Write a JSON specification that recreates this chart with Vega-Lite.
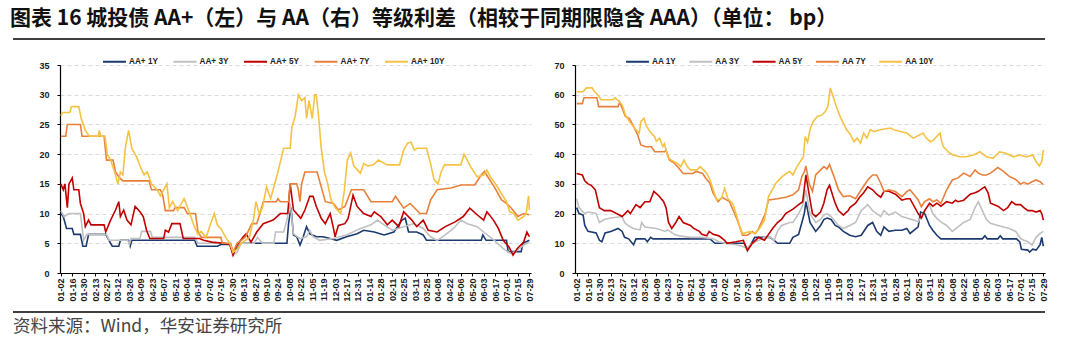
{
"$schema": "https://vega.github.io/schema/vega-lite/v6.json",
"background": "white",
"padding": {"left": 10, "top": 8, "right": 5, "bottom": 5},
"title": {"text": "图表 16 城投债 AA+（左）与 AA（右）等级利差（相较于同期限隐含 AAA）（单位： bp）", "anchor": "start", "font": "Noto Sans CJK SC", "fontSize": 21, "fontWeight": "bold", "color": "#111111", "offset": 7},
"config": {
  "view": {"stroke": null},
  "font": "Liberation Sans",
  "axis": {"labelFont": "Liberation Sans", "labelFontWeight": "bold", "labelColor": "#1a1a1a", "domainColor": "#000000", "domainWidth": 1.2, "tickColor": "#000000", "tickSize": 3, "titleFont": "Liberation Sans"},
  "axisY": {"labelFontSize": 9, "labelPadding": 8, "grid": true, "gridColor": "#d0d0d0", "gridDash": [4, 3], "gridWidth": 0.8},
  "axisX": {"labelFontSize": 9, "labelAngle": -90, "labelPadding": 2, "grid": false},
  "legend": {"orient": "none", "direction": "horizontal", "columns": 5, "symbolType": "stroke", "symbolSize": 529, "symbolStrokeWidth": 2, "labelFont": "Liberation Sans", "labelFontSize": 8.2, "labelFontWeight": "bold", "labelColor": "#222222", "labelOffset": 2, "gridAlign": "all", "padding": 0, "title": null}
},
"datasets": {
"L": [
{"s":"AA+ 1Y","d":"2024-01-02","v":10},{"s":"AA+ 1Y","d":"2024-01-05","v":9.5},{"s":"AA+ 1Y","d":"2024-01-09","v":7.5},{"s":"AA+ 1Y","d":"2024-01-16","v":7.5},{"s":"AA+ 1Y","d":"2024-01-18","v":6.5},{"s":"AA+ 1Y","d":"2024-01-26","v":6.5},{"s":"AA+ 1Y","d":"2024-01-29","v":4.5},{"s":"AA+ 1Y","d":"2024-02-02","v":4.5},{"s":"AA+ 1Y","d":"2024-02-05","v":6.5},{"s":"AA+ 1Y","d":"2024-02-26","v":6.5},{"s":"AA+ 1Y","d":"2024-03-01","v":5.5},{"s":"AA+ 1Y","d":"2024-03-05","v":4.5},{"s":"AA+ 1Y","d":"2024-03-13","v":4.5},{"s":"AA+ 1Y","d":"2024-03-15","v":5.5},{"s":"AA+ 1Y","d":"2024-03-25","v":5.5},{"s":"AA+ 1Y","d":"2024-03-27","v":4.5},{"s":"AA+ 1Y","d":"2024-03-29","v":5.5},{"s":"AA+ 1Y","d":"2024-06-14","v":5.5},{"s":"AA+ 1Y","d":"2024-06-17","v":4.5},{"s":"AA+ 1Y","d":"2024-07-12","v":4.5},{"s":"AA+ 1Y","d":"2024-07-16","v":4.8},{"s":"AA+ 1Y","d":"2024-07-27","v":4.8},{"s":"AA+ 1Y","d":"2024-07-31","v":3.5},{"s":"AA+ 1Y","d":"2024-08-04","v":4},{"s":"AA+ 1Y","d":"2024-08-10","v":5},{"s":"AA+ 1Y","d":"2024-10-05","v":5},{"s":"AA+ 1Y","d":"2024-10-07","v":8.3},{"s":"AA+ 1Y","d":"2024-10-10","v":11},{"s":"AA+ 1Y","d":"2024-10-13","v":6.4},{"s":"AA+ 1Y","d":"2024-10-17","v":6.1},{"s":"AA+ 1Y","d":"2024-10-21","v":4.7},{"s":"AA+ 1Y","d":"2024-10-25","v":6.1},{"s":"AA+ 1Y","d":"2024-10-29","v":7.8},{"s":"AA+ 1Y","d":"2024-11-02","v":6.6},{"s":"AA+ 1Y","d":"2024-11-10","v":6.1},{"s":"AA+ 1Y","d":"2024-11-18","v":6.1},{"s":"AA+ 1Y","d":"2024-11-27","v":5.8},{"s":"AA+ 1Y","d":"2024-12-05","v":5.5},{"s":"AA+ 1Y","d":"2024-12-17","v":6.1},{"s":"AA+ 1Y","d":"2024-12-30","v":6.6},{"s":"AA+ 1Y","d":"2025-01-07","v":7.2},{"s":"AA+ 1Y","d":"2025-01-20","v":6.9},{"s":"AA+ 1Y","d":"2025-02-01","v":6.4},{"s":"AA+ 1Y","d":"2025-02-13","v":6.9},{"s":"AA+ 1Y","d":"2025-02-23","v":8.9},{"s":"AA+ 1Y","d":"2025-02-27","v":9.2},{"s":"AA+ 1Y","d":"2025-03-03","v":6.9},{"s":"AA+ 1Y","d":"2025-03-13","v":6.9},{"s":"AA+ 1Y","d":"2025-03-21","v":6.4},{"s":"AA+ 1Y","d":"2025-03-25","v":5.5},{"s":"AA+ 1Y","d":"2025-05-31","v":5.5},{"s":"AA+ 1Y","d":"2025-06-02","v":6.4},{"s":"AA+ 1Y","d":"2025-06-06","v":5.5},{"s":"AA+ 1Y","d":"2025-07-01","v":5.5},{"s":"AA+ 1Y","d":"2025-07-03","v":3.6},{"s":"AA+ 1Y","d":"2025-07-19","v":3.6},{"s":"AA+ 1Y","d":"2025-07-21","v":5},{"s":"AA+ 1Y","d":"2025-07-29","v":5.5},
{"s":"AA+ 3Y","d":"2024-01-02","v":10.5},{"s":"AA+ 3Y","d":"2024-01-06","v":9.5},{"s":"AA+ 3Y","d":"2024-01-12","v":10},{"s":"AA+ 3Y","d":"2024-01-26","v":10},{"s":"AA+ 3Y","d":"2024-01-30","v":5.5},{"s":"AA+ 3Y","d":"2024-02-03","v":6.5},{"s":"AA+ 3Y","d":"2024-02-27","v":6.5},{"s":"AA+ 3Y","d":"2024-03-01","v":5.5},{"s":"AA+ 3Y","d":"2024-03-24","v":5.5},{"s":"AA+ 3Y","d":"2024-03-26","v":4.8},{"s":"AA+ 3Y","d":"2024-03-28","v":5.8},{"s":"AA+ 3Y","d":"2024-04-08","v":5.8},{"s":"AA+ 3Y","d":"2024-04-10","v":7},{"s":"AA+ 3Y","d":"2024-04-21","v":7},{"s":"AA+ 3Y","d":"2024-04-23","v":6},{"s":"AA+ 3Y","d":"2024-06-14","v":6},{"s":"AA+ 3Y","d":"2024-06-18","v":5},{"s":"AA+ 3Y","d":"2024-07-27","v":5},{"s":"AA+ 3Y","d":"2024-07-31","v":3},{"s":"AA+ 3Y","d":"2024-08-05","v":3.5},{"s":"AA+ 3Y","d":"2024-08-10","v":5},{"s":"AA+ 3Y","d":"2024-08-26","v":5},{"s":"AA+ 3Y","d":"2024-08-30","v":6},{"s":"AA+ 3Y","d":"2024-09-05","v":5},{"s":"AA+ 3Y","d":"2024-09-19","v":5},{"s":"AA+ 3Y","d":"2024-09-21","v":6.9},{"s":"AA+ 3Y","d":"2024-10-01","v":6.9},{"s":"AA+ 3Y","d":"2024-10-05","v":8.9},{"s":"AA+ 3Y","d":"2024-10-07","v":10.6},{"s":"AA+ 3Y","d":"2024-10-09","v":11.7},{"s":"AA+ 3Y","d":"2024-10-13","v":6.6},{"s":"AA+ 3Y","d":"2024-10-21","v":5.8},{"s":"AA+ 3Y","d":"2024-10-29","v":6.1},{"s":"AA+ 3Y","d":"2024-11-02","v":7.2},{"s":"AA+ 3Y","d":"2024-11-06","v":6.1},{"s":"AA+ 3Y","d":"2024-11-14","v":5.5},{"s":"AA+ 3Y","d":"2024-12-01","v":5.8},{"s":"AA+ 3Y","d":"2024-12-17","v":6.4},{"s":"AA+ 3Y","d":"2025-01-03","v":7.5},{"s":"AA+ 3Y","d":"2025-01-16","v":8.1},{"s":"AA+ 3Y","d":"2025-01-24","v":8.9},{"s":"AA+ 3Y","d":"2025-02-01","v":8.1},{"s":"AA+ 3Y","d":"2025-02-11","v":7.2},{"s":"AA+ 3Y","d":"2025-02-25","v":7.8},{"s":"AA+ 3Y","d":"2025-03-09","v":8.3},{"s":"AA+ 3Y","d":"2025-03-21","v":7.5},{"s":"AA+ 3Y","d":"2025-03-30","v":6.1},{"s":"AA+ 3Y","d":"2025-04-07","v":5.5},{"s":"AA+ 3Y","d":"2025-04-17","v":6.4},{"s":"AA+ 3Y","d":"2025-04-27","v":7.5},{"s":"AA+ 3Y","d":"2025-05-06","v":8.9},{"s":"AA+ 3Y","d":"2025-05-14","v":8.3},{"s":"AA+ 3Y","d":"2025-05-26","v":7.8},{"s":"AA+ 3Y","d":"2025-06-03","v":6.9},{"s":"AA+ 3Y","d":"2025-06-16","v":5.5},{"s":"AA+ 3Y","d":"2025-06-27","v":4.1},{"s":"AA+ 3Y","d":"2025-07-06","v":3.3},{"s":"AA+ 3Y","d":"2025-07-14","v":3.8},{"s":"AA+ 3Y","d":"2025-07-22","v":4.7},{"s":"AA+ 3Y","d":"2025-07-29","v":5.2},
{"s":"AA+ 5Y","d":"2024-01-02","v":15},{"s":"AA+ 5Y","d":"2024-01-05","v":14},{"s":"AA+ 5Y","d":"2024-01-07","v":15},{"s":"AA+ 5Y","d":"2024-01-10","v":11},{"s":"AA+ 5Y","d":"2024-01-12","v":15},{"s":"AA+ 5Y","d":"2024-01-16","v":16},{"s":"AA+ 5Y","d":"2024-01-18","v":14},{"s":"AA+ 5Y","d":"2024-01-24","v":14},{"s":"AA+ 5Y","d":"2024-01-26","v":11.7},{"s":"AA+ 5Y","d":"2024-01-30","v":10},{"s":"AA+ 5Y","d":"2024-02-01","v":7.8},{"s":"AA+ 5Y","d":"2024-02-05","v":8.9},{"s":"AA+ 5Y","d":"2024-02-08","v":8.1},{"s":"AA+ 5Y","d":"2024-02-24","v":8.1},{"s":"AA+ 5Y","d":"2024-02-26","v":6.9},{"s":"AA+ 5Y","d":"2024-03-03","v":8.9},{"s":"AA+ 5Y","d":"2024-03-09","v":10.6},{"s":"AA+ 5Y","d":"2024-03-13","v":12},{"s":"AA+ 5Y","d":"2024-03-15","v":9.5},{"s":"AA+ 5Y","d":"2024-03-19","v":10.6},{"s":"AA+ 5Y","d":"2024-03-23","v":8.9},{"s":"AA+ 5Y","d":"2024-03-28","v":8.1},{"s":"AA+ 5Y","d":"2024-04-02","v":11.2},{"s":"AA+ 5Y","d":"2024-04-08","v":10.3},{"s":"AA+ 5Y","d":"2024-04-12","v":9.5},{"s":"AA+ 5Y","d":"2024-04-16","v":7.2},{"s":"AA+ 5Y","d":"2024-04-20","v":5.8},{"s":"AA+ 5Y","d":"2024-05-07","v":5.8},{"s":"AA+ 5Y","d":"2024-05-09","v":7.2},{"s":"AA+ 5Y","d":"2024-05-13","v":6.9},{"s":"AA+ 5Y","d":"2024-05-17","v":8.3},{"s":"AA+ 5Y","d":"2024-05-27","v":8.3},{"s":"AA+ 5Y","d":"2024-05-31","v":5.8},{"s":"AA+ 5Y","d":"2024-06-20","v":5.8},{"s":"AA+ 5Y","d":"2024-06-25","v":5.5},{"s":"AA+ 5Y","d":"2024-07-05","v":5.2},{"s":"AA+ 5Y","d":"2024-07-20","v":5},{"s":"AA+ 5Y","d":"2024-07-27","v":4.8},{"s":"AA+ 5Y","d":"2024-07-31","v":3},{"s":"AA+ 5Y","d":"2024-08-04","v":4.5},{"s":"AA+ 5Y","d":"2024-08-12","v":6},{"s":"AA+ 5Y","d":"2024-08-16","v":6.6},{"s":"AA+ 5Y","d":"2024-08-22","v":5.2},{"s":"AA+ 5Y","d":"2024-08-29","v":6.9},{"s":"AA+ 5Y","d":"2024-09-06","v":8.3},{"s":"AA+ 5Y","d":"2024-09-18","v":8.9},{"s":"AA+ 5Y","d":"2024-09-27","v":10},{"s":"AA+ 5Y","d":"2024-10-06","v":10},{"s":"AA+ 5Y","d":"2024-10-09","v":15},{"s":"AA+ 5Y","d":"2024-10-13","v":10.6},{"s":"AA+ 5Y","d":"2024-10-22","v":9.2},{"s":"AA+ 5Y","d":"2024-10-27","v":10.6},{"s":"AA+ 5Y","d":"2024-11-02","v":12.9},{"s":"AA+ 5Y","d":"2024-11-06","v":12.9},{"s":"AA+ 5Y","d":"2024-11-10","v":11.2},{"s":"AA+ 5Y","d":"2024-11-16","v":9.2},{"s":"AA+ 5Y","d":"2024-11-21","v":8.3},{"s":"AA+ 5Y","d":"2024-11-27","v":10},{"s":"AA+ 5Y","d":"2024-12-01","v":7.5},{"s":"AA+ 5Y","d":"2024-12-03","v":6.1},{"s":"AA+ 5Y","d":"2024-12-07","v":8},{"s":"AA+ 5Y","d":"2024-12-15","v":8.3},{"s":"AA+ 5Y","d":"2024-12-19","v":9.2},{"s":"AA+ 5Y","d":"2024-12-25","v":13.1},{"s":"AA+ 5Y","d":"2024-12-30","v":11.2},{"s":"AA+ 5Y","d":"2025-01-07","v":10},{"s":"AA+ 5Y","d":"2025-01-16","v":9.5},{"s":"AA+ 5Y","d":"2025-01-20","v":10.3},{"s":"AA+ 5Y","d":"2025-01-28","v":9.5},{"s":"AA+ 5Y","d":"2025-02-05","v":8.1},{"s":"AA+ 5Y","d":"2025-02-11","v":8.9},{"s":"AA+ 5Y","d":"2025-02-19","v":7.8},{"s":"AA+ 5Y","d":"2025-02-25","v":10.3},{"s":"AA+ 5Y","d":"2025-03-07","v":8.9},{"s":"AA+ 5Y","d":"2025-03-13","v":7.8},{"s":"AA+ 5Y","d":"2025-03-21","v":8.9},{"s":"AA+ 5Y","d":"2025-03-27","v":7.2},{"s":"AA+ 5Y","d":"2025-04-07","v":6.9},{"s":"AA+ 5Y","d":"2025-04-17","v":7.8},{"s":"AA+ 5Y","d":"2025-04-29","v":8.6},{"s":"AA+ 5Y","d":"2025-05-09","v":9.5},{"s":"AA+ 5Y","d":"2025-05-17","v":10.9},{"s":"AA+ 5Y","d":"2025-05-26","v":9.8},{"s":"AA+ 5Y","d":"2025-06-03","v":8.9},{"s":"AA+ 5Y","d":"2025-06-07","v":10.3},{"s":"AA+ 5Y","d":"2025-06-15","v":8.9},{"s":"AA+ 5Y","d":"2025-06-21","v":7.5},{"s":"AA+ 5Y","d":"2025-06-27","v":5.5},{"s":"AA+ 5Y","d":"2025-07-04","v":4.4},{"s":"AA+ 5Y","d":"2025-07-09","v":3},{"s":"AA+ 5Y","d":"2025-07-14","v":4.1},{"s":"AA+ 5Y","d":"2025-07-22","v":5.2},{"s":"AA+ 5Y","d":"2025-07-26","v":6.9},{"s":"AA+ 5Y","d":"2025-07-29","v":6.1},
{"s":"AA+ 7Y","d":"2024-01-02","v":23},{"s":"AA+ 7Y","d":"2024-01-08","v":23},{"s":"AA+ 7Y","d":"2024-01-10","v":25},{"s":"AA+ 7Y","d":"2024-01-26","v":25},{"s":"AA+ 7Y","d":"2024-01-28","v":23},{"s":"AA+ 7Y","d":"2024-02-24","v":23},{"s":"AA+ 7Y","d":"2024-02-27","v":19},{"s":"AA+ 7Y","d":"2024-03-06","v":19},{"s":"AA+ 7Y","d":"2024-03-09","v":17},{"s":"AA+ 7Y","d":"2024-03-14","v":16},{"s":"AA+ 7Y","d":"2024-03-18","v":15.5},{"s":"AA+ 7Y","d":"2024-04-19","v":15.5},{"s":"AA+ 7Y","d":"2024-04-22","v":14},{"s":"AA+ 7Y","d":"2024-05-03","v":14},{"s":"AA+ 7Y","d":"2024-05-06","v":13},{"s":"AA+ 7Y","d":"2024-05-09","v":10.5},{"s":"AA+ 7Y","d":"2024-05-19","v":10.5},{"s":"AA+ 7Y","d":"2024-05-21","v":11},{"s":"AA+ 7Y","d":"2024-06-01","v":11},{"s":"AA+ 7Y","d":"2024-06-05","v":10},{"s":"AA+ 7Y","d":"2024-06-15","v":10},{"s":"AA+ 7Y","d":"2024-06-18","v":7},{"s":"AA+ 7Y","d":"2024-06-22","v":6},{"s":"AA+ 7Y","d":"2024-07-16","v":6},{"s":"AA+ 7Y","d":"2024-07-18","v":5},{"s":"AA+ 7Y","d":"2024-07-28","v":5},{"s":"AA+ 7Y","d":"2024-07-31","v":3.5},{"s":"AA+ 7Y","d":"2024-08-05","v":5},{"s":"AA+ 7Y","d":"2024-08-15","v":6},{"s":"AA+ 7Y","d":"2024-08-23","v":8.3},{"s":"AA+ 7Y","d":"2024-08-29","v":8.3},{"s":"AA+ 7Y","d":"2024-09-02","v":10},{"s":"AA+ 7Y","d":"2024-09-06","v":12},{"s":"AA+ 7Y","d":"2024-09-22","v":12},{"s":"AA+ 7Y","d":"2024-09-24","v":12.5},{"s":"AA+ 7Y","d":"2024-09-27","v":12},{"s":"AA+ 7Y","d":"2024-10-07","v":12},{"s":"AA+ 7Y","d":"2024-10-09","v":15},{"s":"AA+ 7Y","d":"2024-10-17","v":15},{"s":"AA+ 7Y","d":"2024-10-19","v":14},{"s":"AA+ 7Y","d":"2024-10-21","v":12},{"s":"AA+ 7Y","d":"2024-10-23","v":15},{"s":"AA+ 7Y","d":"2024-10-27","v":17},{"s":"AA+ 7Y","d":"2024-11-11","v":17},{"s":"AA+ 7Y","d":"2024-11-15","v":15},{"s":"AA+ 7Y","d":"2024-11-21","v":12},{"s":"AA+ 7Y","d":"2024-12-01","v":11.7},{"s":"AA+ 7Y","d":"2024-12-07","v":10.6},{"s":"AA+ 7Y","d":"2024-12-15","v":11.2},{"s":"AA+ 7Y","d":"2024-12-23","v":14},{"s":"AA+ 7Y","d":"2025-01-07","v":14},{"s":"AA+ 7Y","d":"2025-01-16","v":12},{"s":"AA+ 7Y","d":"2025-02-11","v":12},{"s":"AA+ 7Y","d":"2025-02-15","v":12.9},{"s":"AA+ 7Y","d":"2025-02-25","v":10.9},{"s":"AA+ 7Y","d":"2025-03-05","v":11.7},{"s":"AA+ 7Y","d":"2025-03-17","v":10},{"s":"AA+ 7Y","d":"2025-03-25","v":10},{"s":"AA+ 7Y","d":"2025-03-30","v":12.3},{"s":"AA+ 7Y","d":"2025-04-07","v":14},{"s":"AA+ 7Y","d":"2025-04-24","v":14.3},{"s":"AA+ 7Y","d":"2025-05-06","v":14.8},{"s":"AA+ 7Y","d":"2025-05-23","v":14.8},{"s":"AA+ 7Y","d":"2025-05-31","v":16.5},{"s":"AA+ 7Y","d":"2025-06-04","v":17.1},{"s":"AA+ 7Y","d":"2025-06-08","v":16.2},{"s":"AA+ 7Y","d":"2025-06-16","v":14.5},{"s":"AA+ 7Y","d":"2025-06-25","v":12.3},{"s":"AA+ 7Y","d":"2025-07-01","v":11.7},{"s":"AA+ 7Y","d":"2025-07-07","v":10.9},{"s":"AA+ 7Y","d":"2025-07-15","v":9.5},{"s":"AA+ 7Y","d":"2025-07-22","v":10},{"s":"AA+ 7Y","d":"2025-07-29","v":9.8},
{"s":"AA+ 10Y","d":"2024-01-02","v":26.5},{"s":"AA+ 10Y","d":"2024-01-04","v":27},{"s":"AA+ 10Y","d":"2024-01-13","v":27},{"s":"AA+ 10Y","d":"2024-01-15","v":28},{"s":"AA+ 10Y","d":"2024-01-24","v":28},{"s":"AA+ 10Y","d":"2024-01-27","v":26},{"s":"AA+ 10Y","d":"2024-02-01","v":24},{"s":"AA+ 10Y","d":"2024-02-06","v":23},{"s":"AA+ 10Y","d":"2024-02-17","v":23},{"s":"AA+ 10Y","d":"2024-02-18","v":24},{"s":"AA+ 10Y","d":"2024-02-20","v":23},{"s":"AA+ 10Y","d":"2024-02-25","v":23},{"s":"AA+ 10Y","d":"2024-02-28","v":20},{"s":"AA+ 10Y","d":"2024-03-03","v":19},{"s":"AA+ 10Y","d":"2024-03-08","v":17},{"s":"AA+ 10Y","d":"2024-03-12","v":15},{"s":"AA+ 10Y","d":"2024-03-15","v":17},{"s":"AA+ 10Y","d":"2024-03-18","v":16.5},{"s":"AA+ 10Y","d":"2024-03-21","v":21},{"s":"AA+ 10Y","d":"2024-03-25","v":24},{"s":"AA+ 10Y","d":"2024-03-29","v":21},{"s":"AA+ 10Y","d":"2024-04-04","v":19.5},{"s":"AA+ 10Y","d":"2024-04-08","v":18},{"s":"AA+ 10Y","d":"2024-04-13","v":16.5},{"s":"AA+ 10Y","d":"2024-04-17","v":17},{"s":"AA+ 10Y","d":"2024-04-22","v":15},{"s":"AA+ 10Y","d":"2024-04-29","v":14},{"s":"AA+ 10Y","d":"2024-05-03","v":13},{"s":"AA+ 10Y","d":"2024-05-11","v":15},{"s":"AA+ 10Y","d":"2024-05-14","v":11},{"s":"AA+ 10Y","d":"2024-05-18","v":12},{"s":"AA+ 10Y","d":"2024-05-24","v":10.5},{"s":"AA+ 10Y","d":"2024-06-01","v":12.5},{"s":"AA+ 10Y","d":"2024-06-08","v":10},{"s":"AA+ 10Y","d":"2024-06-13","v":8},{"s":"AA+ 10Y","d":"2024-06-18","v":6.5},{"s":"AA+ 10Y","d":"2024-06-22","v":7},{"s":"AA+ 10Y","d":"2024-06-28","v":6},{"s":"AA+ 10Y","d":"2024-07-04","v":8.5},{"s":"AA+ 10Y","d":"2024-07-08","v":10},{"s":"AA+ 10Y","d":"2024-07-12","v":8},{"s":"AA+ 10Y","d":"2024-07-16","v":7.5},{"s":"AA+ 10Y","d":"2024-07-22","v":6},{"s":"AA+ 10Y","d":"2024-07-27","v":5},{"s":"AA+ 10Y","d":"2024-07-31","v":3.5},{"s":"AA+ 10Y","d":"2024-08-05","v":4},{"s":"AA+ 10Y","d":"2024-08-10","v":5},{"s":"AA+ 10Y","d":"2024-08-20","v":6},{"s":"AA+ 10Y","d":"2024-08-25","v":9},{"s":"AA+ 10Y","d":"2024-08-28","v":12},{"s":"AA+ 10Y","d":"2024-09-01","v":10},{"s":"AA+ 10Y","d":"2024-09-05","v":11},{"s":"AA+ 10Y","d":"2024-09-10","v":14.5},{"s":"AA+ 10Y","d":"2024-09-15","v":12.5},{"s":"AA+ 10Y","d":"2024-09-23","v":16.5},{"s":"AA+ 10Y","d":"2024-10-01","v":21},{"s":"AA+ 10Y","d":"2024-10-09","v":21},{"s":"AA+ 10Y","d":"2024-10-11","v":24.5},{"s":"AA+ 10Y","d":"2024-10-15","v":26.3},{"s":"AA+ 10Y","d":"2024-10-19","v":30},{"s":"AA+ 10Y","d":"2024-10-23","v":29},{"s":"AA+ 10Y","d":"2024-10-27","v":29.5},{"s":"AA+ 10Y","d":"2024-10-29","v":26},{"s":"AA+ 10Y","d":"2024-11-01","v":29},{"s":"AA+ 10Y","d":"2024-11-05","v":26},{"s":"AA+ 10Y","d":"2024-11-08","v":30},{"s":"AA+ 10Y","d":"2024-11-10","v":30},{"s":"AA+ 10Y","d":"2024-11-13","v":26},{"s":"AA+ 10Y","d":"2024-11-16","v":21},{"s":"AA+ 10Y","d":"2024-11-20","v":17},{"s":"AA+ 10Y","d":"2024-11-24","v":15},{"s":"AA+ 10Y","d":"2024-11-28","v":12.3},{"s":"AA+ 10Y","d":"2024-12-03","v":11},{"s":"AA+ 10Y","d":"2024-12-10","v":10},{"s":"AA+ 10Y","d":"2024-12-14","v":13.5},{"s":"AA+ 10Y","d":"2024-12-18","v":19},{"s":"AA+ 10Y","d":"2024-12-22","v":20.2},{"s":"AA+ 10Y","d":"2024-12-26","v":18},{"s":"AA+ 10Y","d":"2025-01-03","v":16.8},{"s":"AA+ 10Y","d":"2025-01-07","v":18.4},{"s":"AA+ 10Y","d":"2025-01-12","v":18},{"s":"AA+ 10Y","d":"2025-01-19","v":18.2},{"s":"AA+ 10Y","d":"2025-01-25","v":19},{"s":"AA+ 10Y","d":"2025-02-05","v":18.2},{"s":"AA+ 10Y","d":"2025-02-20","v":18.2},{"s":"AA+ 10Y","d":"2025-02-25","v":20.7},{"s":"AA+ 10Y","d":"2025-03-02","v":21.9},{"s":"AA+ 10Y","d":"2025-03-06","v":22},{"s":"AA+ 10Y","d":"2025-03-10","v":20.7},{"s":"AA+ 10Y","d":"2025-03-14","v":21},{"s":"AA+ 10Y","d":"2025-03-25","v":21},{"s":"AA+ 10Y","d":"2025-03-30","v":18.4},{"s":"AA+ 10Y","d":"2025-04-03","v":15.8},{"s":"AA+ 10Y","d":"2025-04-08","v":15},{"s":"AA+ 10Y","d":"2025-04-12","v":17},{"s":"AA+ 10Y","d":"2025-04-16","v":18.2},{"s":"AA+ 10Y","d":"2025-05-06","v":18.2},{"s":"AA+ 10Y","d":"2025-05-10","v":20},{"s":"AA+ 10Y","d":"2025-05-18","v":17.9},{"s":"AA+ 10Y","d":"2025-05-26","v":16.2},{"s":"AA+ 10Y","d":"2025-06-03","v":16.5},{"s":"AA+ 10Y","d":"2025-06-07","v":17.3},{"s":"AA+ 10Y","d":"2025-06-11","v":16.2},{"s":"AA+ 10Y","d":"2025-06-17","v":15.1},{"s":"AA+ 10Y","d":"2025-06-24","v":13.5},{"s":"AA+ 10Y","d":"2025-07-01","v":12},{"s":"AA+ 10Y","d":"2025-07-05","v":10.3},{"s":"AA+ 10Y","d":"2025-07-10","v":10},{"s":"AA+ 10Y","d":"2025-07-15","v":8.9},{"s":"AA+ 10Y","d":"2025-07-22","v":9.5},{"s":"AA+ 10Y","d":"2025-07-25","v":10},{"s":"AA+ 10Y","d":"2025-07-28","v":13},{"s":"AA+ 10Y","d":"2025-07-29","v":10.6}
],
"R": [
{"s":"AA 1Y","d":"2024-01-02","v":22},{"s":"AA 1Y","d":"2024-01-05","v":20},{"s":"AA 1Y","d":"2024-01-10","v":19.5},{"s":"AA 1Y","d":"2024-01-12","v":16},{"s":"AA 1Y","d":"2024-01-16","v":14},{"s":"AA 1Y","d":"2024-01-26","v":13.5},{"s":"AA 1Y","d":"2024-01-30","v":11},{"s":"AA 1Y","d":"2024-02-02","v":10.5},{"s":"AA 1Y","d":"2024-02-06","v":13.5},{"s":"AA 1Y","d":"2024-02-13","v":14},{"s":"AA 1Y","d":"2024-02-22","v":15},{"s":"AA 1Y","d":"2024-02-27","v":14},{"s":"AA 1Y","d":"2024-03-01","v":12},{"s":"AA 1Y","d":"2024-03-06","v":11.5},{"s":"AA 1Y","d":"2024-03-12","v":9.5},{"s":"AA 1Y","d":"2024-03-15","v":11.5},{"s":"AA 1Y","d":"2024-03-26","v":11.5},{"s":"AA 1Y","d":"2024-03-29","v":10.5},{"s":"AA 1Y","d":"2024-04-02","v":12},{"s":"AA 1Y","d":"2024-04-05","v":11.5},{"s":"AA 1Y","d":"2024-06-14","v":11.5},{"s":"AA 1Y","d":"2024-06-20","v":10},{"s":"AA 1Y","d":"2024-07-26","v":10},{"s":"AA 1Y","d":"2024-07-30","v":8},{"s":"AA 1Y","d":"2024-08-03","v":9.5},{"s":"AA 1Y","d":"2024-08-08","v":12},{"s":"AA 1Y","d":"2024-08-27","v":12},{"s":"AA 1Y","d":"2024-09-01","v":11},{"s":"AA 1Y","d":"2024-09-05","v":10},{"s":"AA 1Y","d":"2024-09-20","v":10},{"s":"AA 1Y","d":"2024-09-24","v":12},{"s":"AA 1Y","d":"2024-10-01","v":13},{"s":"AA 1Y","d":"2024-10-08","v":20},{"s":"AA 1Y","d":"2024-10-10","v":24},{"s":"AA 1Y","d":"2024-10-15","v":17},{"s":"AA 1Y","d":"2024-10-22","v":14},{"s":"AA 1Y","d":"2024-10-28","v":16},{"s":"AA 1Y","d":"2024-11-01","v":18},{"s":"AA 1Y","d":"2024-11-05","v":18.5},{"s":"AA 1Y","d":"2024-11-10","v":18},{"s":"AA 1Y","d":"2024-11-15","v":16},{"s":"AA 1Y","d":"2024-11-19","v":15.5},{"s":"AA 1Y","d":"2024-11-25","v":14},{"s":"AA 1Y","d":"2024-12-03","v":12.7},{"s":"AA 1Y","d":"2024-12-10","v":12.2},{"s":"AA 1Y","d":"2024-12-17","v":12.7},{"s":"AA 1Y","d":"2024-12-25","v":16},{"s":"AA 1Y","d":"2024-12-31","v":17},{"s":"AA 1Y","d":"2025-01-05","v":14},{"s":"AA 1Y","d":"2025-01-10","v":12.7},{"s":"AA 1Y","d":"2025-01-14","v":15.5},{"s":"AA 1Y","d":"2025-01-20","v":14},{"s":"AA 1Y","d":"2025-01-28","v":14.4},{"s":"AA 1Y","d":"2025-02-05","v":14.4},{"s":"AA 1Y","d":"2025-02-11","v":15},{"s":"AA 1Y","d":"2025-02-15","v":13.3},{"s":"AA 1Y","d":"2025-02-25","v":15.5},{"s":"AA 1Y","d":"2025-02-28","v":20.5},{"s":"AA 1Y","d":"2025-03-05","v":20},{"s":"AA 1Y","d":"2025-03-08","v":18},{"s":"AA 1Y","d":"2025-03-11","v":16},{"s":"AA 1Y","d":"2025-03-15","v":14.4},{"s":"AA 1Y","d":"2025-03-20","v":12.7},{"s":"AA 1Y","d":"2025-03-25","v":11.5},{"s":"AA 1Y","d":"2025-05-15","v":11.5},{"s":"AA 1Y","d":"2025-05-18","v":12.5},{"s":"AA 1Y","d":"2025-05-21","v":11.5},{"s":"AA 1Y","d":"2025-06-03","v":11.5},{"s":"AA 1Y","d":"2025-06-06","v":12.5},{"s":"AA 1Y","d":"2025-06-09","v":11.5},{"s":"AA 1Y","d":"2025-06-26","v":11.5},{"s":"AA 1Y","d":"2025-06-30","v":10.5},{"s":"AA 1Y","d":"2025-07-02","v":8},{"s":"AA 1Y","d":"2025-07-10","v":7.7},{"s":"AA 1Y","d":"2025-07-12","v":7},{"s":"AA 1Y","d":"2025-07-16","v":8},{"s":"AA 1Y","d":"2025-07-20","v":7.7},{"s":"AA 1Y","d":"2025-07-25","v":9.5},{"s":"AA 1Y","d":"2025-07-27","v":12},{"s":"AA 1Y","d":"2025-07-29","v":9},
{"s":"AA 3Y","d":"2024-01-02","v":25},{"s":"AA 3Y","d":"2024-01-05","v":22},{"s":"AA 3Y","d":"2024-01-12","v":20},{"s":"AA 3Y","d":"2024-01-16","v":20.5},{"s":"AA 3Y","d":"2024-01-26","v":20},{"s":"AA 3Y","d":"2024-01-30","v":17},{"s":"AA 3Y","d":"2024-02-05","v":18},{"s":"AA 3Y","d":"2024-02-13","v":18.5},{"s":"AA 3Y","d":"2024-02-27","v":19},{"s":"AA 3Y","d":"2024-03-01","v":17},{"s":"AA 3Y","d":"2024-03-05","v":16},{"s":"AA 3Y","d":"2024-03-12","v":15},{"s":"AA 3Y","d":"2024-03-20","v":14.5},{"s":"AA 3Y","d":"2024-03-22","v":17},{"s":"AA 3Y","d":"2024-03-26","v":15.5},{"s":"AA 3Y","d":"2024-04-09","v":15},{"s":"AA 3Y","d":"2024-04-20","v":14},{"s":"AA 3Y","d":"2024-04-23","v":14.5},{"s":"AA 3Y","d":"2024-05-01","v":13},{"s":"AA 3Y","d":"2024-05-07","v":12.5},{"s":"AA 3Y","d":"2024-05-21","v":12},{"s":"AA 3Y","d":"2024-06-04","v":12},{"s":"AA 3Y","d":"2024-06-18","v":11.5},{"s":"AA 3Y","d":"2024-06-25","v":10.5},{"s":"AA 3Y","d":"2024-07-02","v":10},{"s":"AA 3Y","d":"2024-07-16","v":9.5},{"s":"AA 3Y","d":"2024-07-30","v":8.5},{"s":"AA 3Y","d":"2024-08-05","v":10},{"s":"AA 3Y","d":"2024-08-13","v":11},{"s":"AA 3Y","d":"2024-08-20","v":12},{"s":"AA 3Y","d":"2024-08-27","v":12},{"s":"AA 3Y","d":"2024-09-01","v":11},{"s":"AA 3Y","d":"2024-09-05","v":14},{"s":"AA 3Y","d":"2024-09-10","v":16},{"s":"AA 3Y","d":"2024-09-20","v":17},{"s":"AA 3Y","d":"2024-09-24","v":17},{"s":"AA 3Y","d":"2024-10-01","v":20},{"s":"AA 3Y","d":"2024-10-05","v":22},{"s":"AA 3Y","d":"2024-10-08","v":25},{"s":"AA 3Y","d":"2024-10-10","v":28},{"s":"AA 3Y","d":"2024-10-15","v":20},{"s":"AA 3Y","d":"2024-10-22","v":17},{"s":"AA 3Y","d":"2024-10-28","v":18},{"s":"AA 3Y","d":"2024-11-01","v":19.5},{"s":"AA 3Y","d":"2024-11-05","v":20},{"s":"AA 3Y","d":"2024-11-10","v":19},{"s":"AA 3Y","d":"2024-11-19","v":16},{"s":"AA 3Y","d":"2024-11-25","v":15},{"s":"AA 3Y","d":"2024-12-03","v":16},{"s":"AA 3Y","d":"2024-12-10","v":17},{"s":"AA 3Y","d":"2024-12-17","v":21},{"s":"AA 3Y","d":"2024-12-25","v":23},{"s":"AA 3Y","d":"2024-12-31","v":21},{"s":"AA 3Y","d":"2025-01-05","v":20},{"s":"AA 3Y","d":"2025-01-10","v":19},{"s":"AA 3Y","d":"2025-01-14","v":21},{"s":"AA 3Y","d":"2025-01-20","v":19.5},{"s":"AA 3Y","d":"2025-01-28","v":20.5},{"s":"AA 3Y","d":"2025-02-05","v":19},{"s":"AA 3Y","d":"2025-02-11","v":18.5},{"s":"AA 3Y","d":"2025-02-20","v":17.8},{"s":"AA 3Y","d":"2025-02-25","v":17.2},{"s":"AA 3Y","d":"2025-03-01","v":19},{"s":"AA 3Y","d":"2025-03-05","v":21},{"s":"AA 3Y","d":"2025-03-11","v":23},{"s":"AA 3Y","d":"2025-03-15","v":20},{"s":"AA 3Y","d":"2025-03-20","v":18.4},{"s":"AA 3Y","d":"2025-03-25","v":17.2},{"s":"AA 3Y","d":"2025-04-01","v":16},{"s":"AA 3Y","d":"2025-04-08","v":14},{"s":"AA 3Y","d":"2025-04-15","v":15.5},{"s":"AA 3Y","d":"2025-04-22","v":17},{"s":"AA 3Y","d":"2025-04-30","v":18},{"s":"AA 3Y","d":"2025-05-06","v":22},{"s":"AA 3Y","d":"2025-05-10","v":24},{"s":"AA 3Y","d":"2025-05-15","v":21},{"s":"AA 3Y","d":"2025-05-20","v":18},{"s":"AA 3Y","d":"2025-05-25","v":16.7},{"s":"AA 3Y","d":"2025-06-03","v":16},{"s":"AA 3Y","d":"2025-06-10","v":15.5},{"s":"AA 3Y","d":"2025-06-17","v":15},{"s":"AA 3Y","d":"2025-06-25","v":14},{"s":"AA 3Y","d":"2025-07-01","v":11.6},{"s":"AA 3Y","d":"2025-07-05","v":11},{"s":"AA 3Y","d":"2025-07-10","v":10.5},{"s":"AA 3Y","d":"2025-07-15","v":9.4},{"s":"AA 3Y","d":"2025-07-20","v":12},{"s":"AA 3Y","d":"2025-07-25","v":13.3},{"s":"AA 3Y","d":"2025-07-29","v":14},
{"s":"AA 5Y","d":"2024-01-02","v":33.5},{"s":"AA 5Y","d":"2024-01-09","v":33},{"s":"AA 5Y","d":"2024-01-12","v":31},{"s":"AA 5Y","d":"2024-01-16","v":30},{"s":"AA 5Y","d":"2024-01-20","v":29.5},{"s":"AA 5Y","d":"2024-01-25","v":28},{"s":"AA 5Y","d":"2024-01-30","v":22},{"s":"AA 5Y","d":"2024-02-05","v":21},{"s":"AA 5Y","d":"2024-02-13","v":21},{"s":"AA 5Y","d":"2024-02-20","v":20},{"s":"AA 5Y","d":"2024-02-27","v":19},{"s":"AA 5Y","d":"2024-03-05","v":21},{"s":"AA 5Y","d":"2024-03-08","v":20},{"s":"AA 5Y","d":"2024-03-15","v":23},{"s":"AA 5Y","d":"2024-03-20","v":22},{"s":"AA 5Y","d":"2024-03-26","v":24},{"s":"AA 5Y","d":"2024-04-01","v":24},{"s":"AA 5Y","d":"2024-04-06","v":27.5},{"s":"AA 5Y","d":"2024-04-12","v":26},{"s":"AA 5Y","d":"2024-04-18","v":24},{"s":"AA 5Y","d":"2024-04-21","v":22},{"s":"AA 5Y","d":"2024-04-24","v":17},{"s":"AA 5Y","d":"2024-04-28","v":15},{"s":"AA 5Y","d":"2024-05-03","v":17},{"s":"AA 5Y","d":"2024-05-07","v":19},{"s":"AA 5Y","d":"2024-05-12","v":17},{"s":"AA 5Y","d":"2024-05-21","v":16},{"s":"AA 5Y","d":"2024-05-25","v":15},{"s":"AA 5Y","d":"2024-06-01","v":14},{"s":"AA 5Y","d":"2024-06-04","v":13},{"s":"AA 5Y","d":"2024-06-10","v":12.5},{"s":"AA 5Y","d":"2024-06-13","v":14},{"s":"AA 5Y","d":"2024-06-18","v":13},{"s":"AA 5Y","d":"2024-06-25","v":12.5},{"s":"AA 5Y","d":"2024-07-02","v":11},{"s":"AA 5Y","d":"2024-07-05","v":10},{"s":"AA 5Y","d":"2024-07-16","v":10.5},{"s":"AA 5Y","d":"2024-07-25","v":11},{"s":"AA 5Y","d":"2024-07-30","v":7.5},{"s":"AA 5Y","d":"2024-08-05","v":10},{"s":"AA 5Y","d":"2024-08-13","v":12},{"s":"AA 5Y","d":"2024-08-20","v":11},{"s":"AA 5Y","d":"2024-08-25","v":13},{"s":"AA 5Y","d":"2024-08-30","v":15},{"s":"AA 5Y","d":"2024-09-05","v":17},{"s":"AA 5Y","d":"2024-09-10","v":18},{"s":"AA 5Y","d":"2024-09-15","v":20},{"s":"AA 5Y","d":"2024-09-24","v":21.5},{"s":"AA 5Y","d":"2024-10-01","v":23},{"s":"AA 5Y","d":"2024-10-06","v":24},{"s":"AA 5Y","d":"2024-10-10","v":33},{"s":"AA 5Y","d":"2024-10-13","v":28},{"s":"AA 5Y","d":"2024-10-18","v":20},{"s":"AA 5Y","d":"2024-10-22","v":19},{"s":"AA 5Y","d":"2024-10-28","v":20.5},{"s":"AA 5Y","d":"2024-11-01","v":23.5},{"s":"AA 5Y","d":"2024-11-05","v":28},{"s":"AA 5Y","d":"2024-11-08","v":29.5},{"s":"AA 5Y","d":"2024-11-12","v":26},{"s":"AA 5Y","d":"2024-11-15","v":23.5},{"s":"AA 5Y","d":"2024-11-19","v":21},{"s":"AA 5Y","d":"2024-11-25","v":19.5},{"s":"AA 5Y","d":"2024-12-01","v":21},{"s":"AA 5Y","d":"2024-12-03","v":22},{"s":"AA 5Y","d":"2024-12-10","v":23.5},{"s":"AA 5Y","d":"2024-12-15","v":25.5},{"s":"AA 5Y","d":"2024-12-20","v":27},{"s":"AA 5Y","d":"2024-12-25","v":29},{"s":"AA 5Y","d":"2024-12-31","v":28},{"s":"AA 5Y","d":"2025-01-05","v":26.5},{"s":"AA 5Y","d":"2025-01-10","v":25.5},{"s":"AA 5Y","d":"2025-01-14","v":27.5},{"s":"AA 5Y","d":"2025-01-20","v":27.5},{"s":"AA 5Y","d":"2025-01-28","v":26.5},{"s":"AA 5Y","d":"2025-02-05","v":24.5},{"s":"AA 5Y","d":"2025-02-11","v":25},{"s":"AA 5Y","d":"2025-02-15","v":25},{"s":"AA 5Y","d":"2025-02-20","v":22.5},{"s":"AA 5Y","d":"2025-02-25","v":20},{"s":"AA 5Y","d":"2025-03-01","v":18.5},{"s":"AA 5Y","d":"2025-03-05","v":21},{"s":"AA 5Y","d":"2025-03-11","v":23.5},{"s":"AA 5Y","d":"2025-03-15","v":22.5},{"s":"AA 5Y","d":"2025-03-20","v":23.5},{"s":"AA 5Y","d":"2025-03-25","v":22.5},{"s":"AA 5Y","d":"2025-04-01","v":24},{"s":"AA 5Y","d":"2025-04-08","v":23.5},{"s":"AA 5Y","d":"2025-04-12","v":24.5},{"s":"AA 5Y","d":"2025-04-15","v":24},{"s":"AA 5Y","d":"2025-04-22","v":24.5},{"s":"AA 5Y","d":"2025-04-30","v":26.5},{"s":"AA 5Y","d":"2025-05-06","v":27},{"s":"AA 5Y","d":"2025-05-10","v":27.5},{"s":"AA 5Y","d":"2025-05-15","v":28.5},{"s":"AA 5Y","d":"2025-05-18","v":29},{"s":"AA 5Y","d":"2025-05-22","v":27},{"s":"AA 5Y","d":"2025-05-25","v":23.5},{"s":"AA 5Y","d":"2025-06-03","v":22.5},{"s":"AA 5Y","d":"2025-06-10","v":21},{"s":"AA 5Y","d":"2025-06-15","v":22},{"s":"AA 5Y","d":"2025-06-20","v":24},{"s":"AA 5Y","d":"2025-06-25","v":23},{"s":"AA 5Y","d":"2025-07-01","v":23},{"s":"AA 5Y","d":"2025-07-05","v":22},{"s":"AA 5Y","d":"2025-07-10","v":21},{"s":"AA 5Y","d":"2025-07-15","v":21},{"s":"AA 5Y","d":"2025-07-20","v":20.5},{"s":"AA 5Y","d":"2025-07-25","v":21},{"s":"AA 5Y","d":"2025-07-27","v":20},{"s":"AA 5Y","d":"2025-07-29","v":17.8},
{"s":"AA 7Y","d":"2024-01-02","v":57},{"s":"AA 7Y","d":"2024-01-09","v":57},{"s":"AA 7Y","d":"2024-01-11","v":59},{"s":"AA 7Y","d":"2024-01-27","v":59},{"s":"AA 7Y","d":"2024-01-29","v":56},{"s":"AA 7Y","d":"2024-02-22","v":56},{"s":"AA 7Y","d":"2024-02-24","v":57.5},{"s":"AA 7Y","d":"2024-02-27","v":55.5},{"s":"AA 7Y","d":"2024-03-02","v":52.7},{"s":"AA 7Y","d":"2024-03-07","v":52},{"s":"AA 7Y","d":"2024-03-13","v":48.8},{"s":"AA 7Y","d":"2024-03-17","v":46.5},{"s":"AA 7Y","d":"2024-03-21","v":43.1},{"s":"AA 7Y","d":"2024-03-27","v":42.5},{"s":"AA 7Y","d":"2024-04-03","v":42.5},{"s":"AA 7Y","d":"2024-04-07","v":40.8},{"s":"AA 7Y","d":"2024-04-19","v":40.8},{"s":"AA 7Y","d":"2024-04-21","v":41.3},{"s":"AA 7Y","d":"2024-04-25","v":38},{"s":"AA 7Y","d":"2024-05-01","v":37},{"s":"AA 7Y","d":"2024-05-07","v":35.2},{"s":"AA 7Y","d":"2024-05-12","v":33.5},{"s":"AA 7Y","d":"2024-05-24","v":33.5},{"s":"AA 7Y","d":"2024-05-28","v":34.2},{"s":"AA 7Y","d":"2024-06-05","v":33.5},{"s":"AA 7Y","d":"2024-06-09","v":31.8},{"s":"AA 7Y","d":"2024-06-14","v":30.2},{"s":"AA 7Y","d":"2024-06-18","v":26.8},{"s":"AA 7Y","d":"2024-06-24","v":24},{"s":"AA 7Y","d":"2024-06-29","v":25.5},{"s":"AA 7Y","d":"2024-07-08","v":24},{"s":"AA 7Y","d":"2024-07-16","v":18.9},{"s":"AA 7Y","d":"2024-07-20","v":16},{"s":"AA 7Y","d":"2024-07-24","v":12.7},{"s":"AA 7Y","d":"2024-07-30","v":12.7},{"s":"AA 7Y","d":"2024-08-05","v":13.9},{"s":"AA 7Y","d":"2024-08-09","v":13.3},{"s":"AA 7Y","d":"2024-08-13","v":15},{"s":"AA 7Y","d":"2024-08-21","v":20},{"s":"AA 7Y","d":"2024-08-25","v":24.6},{"s":"AA 7Y","d":"2024-09-05","v":25},{"s":"AA 7Y","d":"2024-09-15","v":25.5},{"s":"AA 7Y","d":"2024-09-24","v":26.3},{"s":"AA 7Y","d":"2024-10-01","v":28},{"s":"AA 7Y","d":"2024-10-05","v":32.5},{"s":"AA 7Y","d":"2024-10-08","v":34},{"s":"AA 7Y","d":"2024-10-10","v":36},{"s":"AA 7Y","d":"2024-10-14","v":30},{"s":"AA 7Y","d":"2024-10-18","v":27.5},{"s":"AA 7Y","d":"2024-10-22","v":33},{"s":"AA 7Y","d":"2024-11-01","v":35.8},{"s":"AA 7Y","d":"2024-11-05","v":35},{"s":"AA 7Y","d":"2024-11-08","v":36.5},{"s":"AA 7Y","d":"2024-11-15","v":31.3},{"s":"AA 7Y","d":"2024-11-19","v":28},{"s":"AA 7Y","d":"2024-11-25","v":25.7},{"s":"AA 7Y","d":"2024-12-03","v":26},{"s":"AA 7Y","d":"2024-12-10","v":25},{"s":"AA 7Y","d":"2024-12-17","v":28},{"s":"AA 7Y","d":"2024-12-25","v":31.3},{"s":"AA 7Y","d":"2024-12-31","v":33},{"s":"AA 7Y","d":"2025-01-05","v":33},{"s":"AA 7Y","d":"2025-01-10","v":30.2},{"s":"AA 7Y","d":"2025-01-14","v":27.4},{"s":"AA 7Y","d":"2025-01-20","v":28},{"s":"AA 7Y","d":"2025-01-28","v":27.4},{"s":"AA 7Y","d":"2025-02-05","v":25.7},{"s":"AA 7Y","d":"2025-02-11","v":27.4},{"s":"AA 7Y","d":"2025-02-15","v":28},{"s":"AA 7Y","d":"2025-02-20","v":26.3},{"s":"AA 7Y","d":"2025-02-25","v":24.6},{"s":"AA 7Y","d":"2025-03-01","v":22.3},{"s":"AA 7Y","d":"2025-03-05","v":24},{"s":"AA 7Y","d":"2025-03-11","v":25},{"s":"AA 7Y","d":"2025-03-15","v":24},{"s":"AA 7Y","d":"2025-03-20","v":24.6},{"s":"AA 7Y","d":"2025-03-25","v":23.4},{"s":"AA 7Y","d":"2025-04-01","v":28},{"s":"AA 7Y","d":"2025-04-08","v":31.3},{"s":"AA 7Y","d":"2025-04-15","v":32},{"s":"AA 7Y","d":"2025-04-22","v":33.6},{"s":"AA 7Y","d":"2025-04-30","v":32.5},{"s":"AA 7Y","d":"2025-05-06","v":34.7},{"s":"AA 7Y","d":"2025-05-10","v":33.6},{"s":"AA 7Y","d":"2025-05-15","v":33},{"s":"AA 7Y","d":"2025-05-20","v":33},{"s":"AA 7Y","d":"2025-05-25","v":33.6},{"s":"AA 7Y","d":"2025-06-03","v":35.5},{"s":"AA 7Y","d":"2025-06-10","v":34.2},{"s":"AA 7Y","d":"2025-06-17","v":32.5},{"s":"AA 7Y","d":"2025-06-25","v":31.5},{"s":"AA 7Y","d":"2025-07-01","v":29.9},{"s":"AA 7Y","d":"2025-07-05","v":30.5},{"s":"AA 7Y","d":"2025-07-10","v":29.9},{"s":"AA 7Y","d":"2025-07-15","v":30.7},{"s":"AA 7Y","d":"2025-07-20","v":31.3},{"s":"AA 7Y","d":"2025-07-25","v":30.7},{"s":"AA 7Y","d":"2025-07-29","v":29.7},
{"s":"AA 10Y","d":"2024-01-02","v":61},{"s":"AA 10Y","d":"2024-01-10","v":61},{"s":"AA 10Y","d":"2024-01-14","v":62.3},{"s":"AA 10Y","d":"2024-01-21","v":62.3},{"s":"AA 10Y","d":"2024-01-24","v":61},{"s":"AA 10Y","d":"2024-01-28","v":60},{"s":"AA 10Y","d":"2024-02-01","v":58.3},{"s":"AA 10Y","d":"2024-02-16","v":58.3},{"s":"AA 10Y","d":"2024-02-18","v":59},{"s":"AA 10Y","d":"2024-02-21","v":58.3},{"s":"AA 10Y","d":"2024-02-27","v":56.6},{"s":"AA 10Y","d":"2024-03-02","v":53.2},{"s":"AA 10Y","d":"2024-03-07","v":51},{"s":"AA 10Y","d":"2024-03-13","v":48.8},{"s":"AA 10Y","d":"2024-03-19","v":47.1},{"s":"AA 10Y","d":"2024-03-21","v":51},{"s":"AA 10Y","d":"2024-03-25","v":52.1},{"s":"AA 10Y","d":"2024-03-27","v":50},{"s":"AA 10Y","d":"2024-04-01","v":47.6},{"s":"AA 10Y","d":"2024-04-07","v":45.9},{"s":"AA 10Y","d":"2024-04-09","v":44.3},{"s":"AA 10Y","d":"2024-04-13","v":45.4},{"s":"AA 10Y","d":"2024-04-17","v":42.5},{"s":"AA 10Y","d":"2024-04-19","v":43.5},{"s":"AA 10Y","d":"2024-04-23","v":39.1},{"s":"AA 10Y","d":"2024-04-27","v":38},{"s":"AA 10Y","d":"2024-05-05","v":36.9},{"s":"AA 10Y","d":"2024-05-09","v":35.8},{"s":"AA 10Y","d":"2024-05-13","v":38},{"s":"AA 10Y","d":"2024-05-17","v":35.8},{"s":"AA 10Y","d":"2024-05-21","v":34.7},{"s":"AA 10Y","d":"2024-05-29","v":34.7},{"s":"AA 10Y","d":"2024-06-02","v":35.8},{"s":"AA 10Y","d":"2024-06-06","v":34.7},{"s":"AA 10Y","d":"2024-06-10","v":33.6},{"s":"AA 10Y","d":"2024-06-14","v":31.3},{"s":"AA 10Y","d":"2024-06-18","v":28},{"s":"AA 10Y","d":"2024-06-22","v":24.6},{"s":"AA 10Y","d":"2024-06-28","v":25},{"s":"AA 10Y","d":"2024-07-02","v":28.5},{"s":"AA 10Y","d":"2024-07-06","v":25},{"s":"AA 10Y","d":"2024-07-12","v":23.4},{"s":"AA 10Y","d":"2024-07-16","v":20},{"s":"AA 10Y","d":"2024-07-20","v":16.1},{"s":"AA 10Y","d":"2024-07-24","v":13.3},{"s":"AA 10Y","d":"2024-08-02","v":13.9},{"s":"AA 10Y","d":"2024-08-08","v":13.3},{"s":"AA 10Y","d":"2024-08-14","v":15},{"s":"AA 10Y","d":"2024-08-20","v":17.8},{"s":"AA 10Y","d":"2024-08-25","v":25.7},{"s":"AA 10Y","d":"2024-09-03","v":30.2},{"s":"AA 10Y","d":"2024-09-11","v":32.5},{"s":"AA 10Y","d":"2024-09-20","v":34.2},{"s":"AA 10Y","d":"2024-09-24","v":33},{"s":"AA 10Y","d":"2024-09-29","v":35.8},{"s":"AA 10Y","d":"2024-10-07","v":39.1},{"s":"AA 10Y","d":"2024-10-09","v":45.9},{"s":"AA 10Y","d":"2024-10-12","v":44},{"s":"AA 10Y","d":"2024-10-15","v":48.2},{"s":"AA 10Y","d":"2024-10-19","v":51},{"s":"AA 10Y","d":"2024-10-24","v":52.7},{"s":"AA 10Y","d":"2024-10-30","v":53.2},{"s":"AA 10Y","d":"2024-11-03","v":54.4},{"s":"AA 10Y","d":"2024-11-06","v":56.1},{"s":"AA 10Y","d":"2024-11-09","v":62.3},{"s":"AA 10Y","d":"2024-11-13","v":58.9},{"s":"AA 10Y","d":"2024-11-17","v":55.5},{"s":"AA 10Y","d":"2024-11-21","v":52.7},{"s":"AA 10Y","d":"2024-11-25","v":50.4},{"s":"AA 10Y","d":"2024-11-29","v":48.2},{"s":"AA 10Y","d":"2024-12-04","v":46.5},{"s":"AA 10Y","d":"2024-12-08","v":44.2},{"s":"AA 10Y","d":"2024-12-12","v":45.4},{"s":"AA 10Y","d":"2024-12-16","v":43.7},{"s":"AA 10Y","d":"2024-12-20","v":47.1},{"s":"AA 10Y","d":"2024-12-24","v":45.4},{"s":"AA 10Y","d":"2024-12-28","v":48.2},{"s":"AA 10Y","d":"2025-01-02","v":47.6},{"s":"AA 10Y","d":"2025-01-09","v":48.2},{"s":"AA 10Y","d":"2025-01-22","v":48.8},{"s":"AA 10Y","d":"2025-01-26","v":48.2},{"s":"AA 10Y","d":"2025-02-03","v":47.6},{"s":"AA 10Y","d":"2025-02-11","v":47.1},{"s":"AA 10Y","d":"2025-02-19","v":45.4},{"s":"AA 10Y","d":"2025-02-27","v":46.5},{"s":"AA 10Y","d":"2025-03-03","v":47.1},{"s":"AA 10Y","d":"2025-03-07","v":45.4},{"s":"AA 10Y","d":"2025-03-12","v":44.2},{"s":"AA 10Y","d":"2025-03-16","v":44.8},{"s":"AA 10Y","d":"2025-03-20","v":46},{"s":"AA 10Y","d":"2025-03-24","v":47.1},{"s":"AA 10Y","d":"2025-03-26","v":44.2},{"s":"AA 10Y","d":"2025-03-28","v":42.5},{"s":"AA 10Y","d":"2025-04-01","v":41.4},{"s":"AA 10Y","d":"2025-04-05","v":40.3},{"s":"AA 10Y","d":"2025-04-09","v":39.7},{"s":"AA 10Y","d":"2025-04-17","v":39.1},{"s":"AA 10Y","d":"2025-04-25","v":39.1},{"s":"AA 10Y","d":"2025-05-04","v":39.7},{"s":"AA 10Y","d":"2025-05-12","v":40.8},{"s":"AA 10Y","d":"2025-05-20","v":39.1},{"s":"AA 10Y","d":"2025-05-28","v":38.6},{"s":"AA 10Y","d":"2025-06-05","v":40.8},{"s":"AA 10Y","d":"2025-06-13","v":40.3},{"s":"AA 10Y","d":"2025-06-22","v":39.1},{"s":"AA 10Y","d":"2025-06-30","v":39.7},{"s":"AA 10Y","d":"2025-07-08","v":39.1},{"s":"AA 10Y","d":"2025-07-16","v":39.7},{"s":"AA 10Y","d":"2025-07-20","v":37.5},{"s":"AA 10Y","d":"2025-07-24","v":36},{"s":"AA 10Y","d":"2025-07-27","v":37.5},{"s":"AA 10Y","d":"2025-07-29","v":41.4}
],
"seg": [{"a": 0, "b": 1}],
"hline": [{"a": 0, "c": 1}, {"a": 1, "c": 1}]
},
"spacing": 7,
"vconcat": [
 {"width": 1032, "height": 2, "data": {"name": "hline"}, "mark": {"type": "line", "stroke": "#000000", "strokeWidth": 1.5},
  "encoding": {"x": {"field": "a", "type": "quantitative", "scale": {"domain": [0, 1]}, "axis": null}, "y": {"field": "c", "type": "quantitative", "scale": {"domain": [0, 1]}, "axis": null}}},
 {"spacing": 18, "resolve": {"scale": {"color": "independent"}, "legend": {"color": "independent"}}, "hconcat": [
  {"width": 7, "height": 208, "data": {"name": "seg"}, "mark": {"type": "rect", "opacity": 0},
   "encoding": {"x": {"field": "a", "type": "quantitative", "scale": {"domain": [0, 1]}, "axis": null}, "x2": {"field": "b"}}},
  {"width": 471, "height": 208, "data": {"name": "L"},
   "mark": {"type": "line", "strokeWidth": 1.6},
   "encoding": {
    "x": {"field": "d", "type": "temporal", "scale": {"type": "utc", "domain": [{"year": 2024, "month": 1, "date": 1, "utc": true}, {"year": 2025, "month": 7, "date": 31, "utc": true}]},
      "axis": {"title": null, "format": "%m-%d", "values": [
       {"year":2024,"month":1,"date":2,"utc":true},{"year":2024,"month":1,"date":16,"utc":true},{"year":2024,"month":1,"date":30,"utc":true},{"year":2024,"month":2,"date":13,"utc":true},{"year":2024,"month":2,"date":27,"utc":true},{"year":2024,"month":3,"date":12,"utc":true},{"year":2024,"month":3,"date":26,"utc":true},{"year":2024,"month":4,"date":9,"utc":true},{"year":2024,"month":4,"date":23,"utc":true},{"year":2024,"month":5,"date":7,"utc":true},{"year":2024,"month":5,"date":21,"utc":true},{"year":2024,"month":6,"date":4,"utc":true},{"year":2024,"month":6,"date":18,"utc":true},{"year":2024,"month":7,"date":2,"utc":true},{"year":2024,"month":7,"date":16,"utc":true},{"year":2024,"month":7,"date":30,"utc":true},{"year":2024,"month":8,"date":13,"utc":true},{"year":2024,"month":8,"date":27,"utc":true},{"year":2024,"month":9,"date":10,"utc":true},{"year":2024,"month":9,"date":24,"utc":true},{"year":2024,"month":10,"date":8,"utc":true},{"year":2024,"month":10,"date":22,"utc":true},{"year":2024,"month":11,"date":5,"utc":true},{"year":2024,"month":11,"date":19,"utc":true},{"year":2024,"month":12,"date":3,"utc":true},{"year":2024,"month":12,"date":17,"utc":true},{"year":2024,"month":12,"date":31,"utc":true},{"year":2025,"month":1,"date":14,"utc":true},{"year":2025,"month":1,"date":28,"utc":true},{"year":2025,"month":2,"date":11,"utc":true},{"year":2025,"month":2,"date":25,"utc":true},{"year":2025,"month":3,"date":11,"utc":true},{"year":2025,"month":3,"date":25,"utc":true},{"year":2025,"month":4,"date":8,"utc":true},{"year":2025,"month":4,"date":22,"utc":true},{"year":2025,"month":5,"date":6,"utc":true},{"year":2025,"month":5,"date":20,"utc":true},{"year":2025,"month":6,"date":3,"utc":true},{"year":2025,"month":6,"date":17,"utc":true},{"year":2025,"month":7,"date":1,"utc":true},{"year":2025,"month":7,"date":15,"utc":true},{"year":2025,"month":7,"date":29,"utc":true}]}},
    "y": {"field": "v", "type": "quantitative", "scale": {"domain": [0, 35]}, "axis": {"values": [0, 5, 10, 15, 20, 25, 30, 35], "title": null}},
    "color": {"field": "s", "type": "nominal", "sort": ["AA+ 1Y", "AA+ 3Y", "AA+ 5Y", "AA+ 7Y", "AA+ 10Y"], "scale": {"domain": ["AA+ 1Y", "AA+ 3Y", "AA+ 5Y", "AA+ 7Y", "AA+ 10Y"], "range": ["#1c3a70", "#c0c0c0", "#c00000", "#e8803c", "#f5c244"]},
      "legend": {"legendX": 42, "legendY": -16, "columnPadding": 6.5}}
   }},
  {"width": 470, "height": 208, "data": {"name": "R"},
   "mark": {"type": "line", "strokeWidth": 1.6},
   "encoding": {
    "x": {"field": "d", "type": "temporal", "scale": {"type": "utc", "domain": [{"year": 2023, "month": 12, "date": 31, "utc": true}, {"year": 2025, "month": 7, "date": 31, "utc": true}]},
      "axis": {"title": null, "format": "%m-%d", "values": [
       {"year":2024,"month":1,"date":2,"utc":true},{"year":2024,"month":1,"date":16,"utc":true},{"year":2024,"month":1,"date":30,"utc":true},{"year":2024,"month":2,"date":13,"utc":true},{"year":2024,"month":2,"date":27,"utc":true},{"year":2024,"month":3,"date":12,"utc":true},{"year":2024,"month":3,"date":26,"utc":true},{"year":2024,"month":4,"date":9,"utc":true},{"year":2024,"month":4,"date":23,"utc":true},{"year":2024,"month":5,"date":7,"utc":true},{"year":2024,"month":5,"date":21,"utc":true},{"year":2024,"month":6,"date":4,"utc":true},{"year":2024,"month":6,"date":18,"utc":true},{"year":2024,"month":7,"date":2,"utc":true},{"year":2024,"month":7,"date":16,"utc":true},{"year":2024,"month":7,"date":30,"utc":true},{"year":2024,"month":8,"date":13,"utc":true},{"year":2024,"month":8,"date":27,"utc":true},{"year":2024,"month":9,"date":10,"utc":true},{"year":2024,"month":9,"date":24,"utc":true},{"year":2024,"month":10,"date":8,"utc":true},{"year":2024,"month":10,"date":22,"utc":true},{"year":2024,"month":11,"date":5,"utc":true},{"year":2024,"month":11,"date":19,"utc":true},{"year":2024,"month":12,"date":3,"utc":true},{"year":2024,"month":12,"date":17,"utc":true},{"year":2024,"month":12,"date":31,"utc":true},{"year":2025,"month":1,"date":14,"utc":true},{"year":2025,"month":1,"date":28,"utc":true},{"year":2025,"month":2,"date":11,"utc":true},{"year":2025,"month":2,"date":25,"utc":true},{"year":2025,"month":3,"date":11,"utc":true},{"year":2025,"month":3,"date":25,"utc":true},{"year":2025,"month":4,"date":8,"utc":true},{"year":2025,"month":4,"date":22,"utc":true},{"year":2025,"month":5,"date":6,"utc":true},{"year":2025,"month":5,"date":20,"utc":true},{"year":2025,"month":6,"date":3,"utc":true},{"year":2025,"month":6,"date":17,"utc":true},{"year":2025,"month":7,"date":1,"utc":true},{"year":2025,"month":7,"date":15,"utc":true},{"year":2025,"month":7,"date":29,"utc":true}]}},
    "y": {"field": "v", "type": "quantitative", "scale": {"domain": [0, 70]}, "axis": {"values": [0, 10, 20, 30, 40, 50, 60, 70], "title": null}},
    "color": {"field": "s", "type": "nominal", "sort": ["AA 1Y", "AA 3Y", "AA 5Y", "AA 7Y", "AA 10Y"], "scale": {"domain": ["AA 1Y", "AA 3Y", "AA 5Y", "AA 7Y", "AA 10Y"], "range": ["#1c3a70", "#c0c0c0", "#c00000", "#e8803c", "#f5c244"]},
      "legend": {"legendX": 50, "legendY": -16, "columnPadding": 4.3}}
   }}
 ]},
 {"width": 1032, "height": 2, "data": {"name": "hline"}, "mark": {"type": "line", "stroke": "#000000", "strokeWidth": 1.5},
  "encoding": {"x": {"field": "a", "type": "quantitative", "scale": {"domain": [0, 1]}, "axis": null}, "y": {"field": "c", "type": "quantitative", "scale": {"domain": [0, 1]}, "axis": null}},
  "title": {"text": "资料来源：Wind，华安证券研究所", "orient": "bottom", "anchor": "start", "font": "Noto Sans CJK SC", "fontSize": 17.5, "fontWeight": "normal", "color": "#444444", "offset": 3, "dx": 3}}
]
}
